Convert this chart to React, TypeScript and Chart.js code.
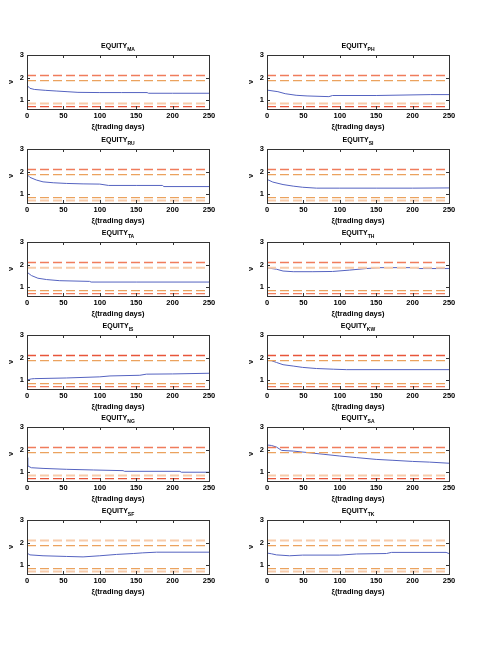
import { useEffect, useRef } from 'react';
import { Chart, registerables } from 'chart.js';

Chart.register(...registerables);

const X_TICKS = [0, 50, 100, 150, 200, 250];
const Y_TICKS = [1, 2, 3];
const Y_MIN = 0.6;
const Y_MAX = 3;

// dashed reference levels drawn in every panel
const BANDS = [2.09, 1.86, 0.84, 0.71];

const RED = '#e8553a';
const REDORANGE = '#f07c5c';
const ORANGE = '#eba25e';
const PEACH = '#f8cbaa';
const BLUE = '#5563c0';

const MA_X = [0, 4, 10, 25, 40, 55, 70, 100, 130, 165, 167, 200, 250];
const MA_Y = [1.65, 1.52, 1.47, 1.43, 1.4, 1.37, 1.34, 1.33, 1.33, 1.33, 1.3, 1.3, 1.3];

const PH_X = [0, 15, 25, 40, 55, 85, 90, 150, 225, 250];
const PH_Y = [1.44, 1.37, 1.28, 1.21, 1.18, 1.15, 1.2, 1.2, 1.24, 1.24];

const RU_X = [0, 4, 13, 22, 36, 54, 77, 100, 112, 150, 186, 188, 250];
const RU_Y = [1.87, 1.74, 1.62, 1.54, 1.5, 1.47, 1.45, 1.44, 1.38, 1.38, 1.38, 1.33, 1.33];

const SI_X = [0, 8, 22, 36, 49, 68, 100, 150, 200, 250];
const SI_Y = [1.65, 1.53, 1.42, 1.35, 1.3, 1.26, 1.26, 1.26, 1.26, 1.27];

const TA_X = [0, 6, 15, 27, 45, 86, 88, 150, 250];
const TA_Y = [1.66, 1.51, 1.39, 1.33, 1.28, 1.25, 1.22, 1.22, 1.22];

const TH_X = [0, 13, 22, 36, 63, 90, 113, 136, 155, 205, 210, 250];
const TH_Y = [1.85, 1.79, 1.71, 1.68, 1.68, 1.69, 1.75, 1.82, 1.86, 1.86, 1.82, 1.82];

const IS_X = [0, 6, 10, 54, 100, 114, 155, 164, 200, 250];
const IS_Y = [1.0, 1.05, 1.06, 1.09, 1.14, 1.18, 1.21, 1.26, 1.27, 1.3];

const KW_X = [0, 6, 13, 22, 36, 49, 68, 91, 109, 250];
const KW_Y = [1.87, 1.86, 1.78, 1.68, 1.62, 1.56, 1.51, 1.48, 1.46, 1.46];

const NG_X = [0, 1, 6, 22, 54, 91, 132, 134, 210, 212, 250];
const NG_Y = [1.64, 1.27, 1.19, 1.16, 1.12, 1.09, 1.06, 1.03, 1.03, 0.99, 0.99];

const SA_X = [0, 6, 13, 20, 36, 54, 77, 100, 123, 150, 173, 200, 223, 250];
const SA_Y = [2.2, 2.18, 2.11, 1.96, 1.93, 1.87, 1.79, 1.71, 1.64, 1.56, 1.52, 1.47, 1.44, 1.39];

const SF_X = [0, 4, 22, 54, 77, 100, 123, 146, 159, 178, 250];
const SF_Y = [1.53, 1.45, 1.41, 1.38, 1.36, 1.41, 1.47, 1.51, 1.54, 1.57, 1.57];

const TK_X = [0, 6, 13, 31, 49, 100, 123, 164, 171, 246, 250];
const TK_Y = [1.53, 1.5, 1.45, 1.41, 1.44, 1.44, 1.49, 1.51, 1.56, 1.56, 1.51];

const PANELS = [
  { sub: 'MA', xs: MA_X, ys: MA_Y, colors: [REDORANGE, ORANGE, PEACH, RED] },
  { sub: 'PH', xs: PH_X, ys: PH_Y, colors: [REDORANGE, ORANGE, PEACH, RED] },
  { sub: 'RU', xs: RU_X, ys: RU_Y, colors: [REDORANGE, ORANGE, ORANGE, PEACH] },
  { sub: 'SI', xs: SI_X, ys: SI_Y, colors: [REDORANGE, ORANGE, ORANGE, PEACH] },
  { sub: 'TA', xs: TA_X, ys: TA_Y, colors: [REDORANGE, PEACH, ORANGE, REDORANGE] },
  { sub: 'TH', xs: TH_X, ys: TH_Y, colors: [REDORANGE, PEACH, ORANGE, REDORANGE] },
  { sub: 'IS', xs: IS_X, ys: IS_Y, colors: [RED, ORANGE, ORANGE, REDORANGE] },
  { sub: 'KW', xs: KW_X, ys: KW_Y, colors: [RED, ORANGE, ORANGE, REDORANGE] },
  { sub: 'NG', xs: NG_X, ys: NG_Y, colors: [REDORANGE, ORANGE, PEACH, RED] },
  { sub: 'SA', xs: SA_X, ys: SA_Y, colors: [REDORANGE, ORANGE, PEACH, RED] },
  { sub: 'SF', xs: SF_X, ys: SF_Y, colors: [PEACH, ORANGE, ORANGE, PEACH] },
  { sub: 'TK', xs: TK_X, ys: TK_Y, colors: [PEACH, ORANGE, ORANGE, PEACH] },
];

const ROW_TOPS = [55, 149, 242, 335, 427, 520];
const COL_LEFTS = [0, 240];
const FONT = '"Liberation Sans", Arial, sans-serif';

// MATLAB-style box with inward ticks plus the subscripted title
const framePlugin = {
  id: 'frame',
  afterDraw(chart: any) {
    const { ctx, chartArea, scales } = chart;
    const { left, right, top, bottom } = chartArea;
    const sub = chart.options.plugins.frame.sub;
    ctx.save();
    ctx.strokeStyle = '#333';
    ctx.lineWidth = 1;
    ctx.strokeRect(Math.round(left) + 0.5, Math.round(top) + 0.5, Math.round(right - left), Math.round(bottom - top));
    ctx.beginPath();
    scales.x.ticks.forEach((t: any) => {
      const px = Math.round(scales.x.getPixelForValue(t.value)) + 0.5;
      ctx.moveTo(px, bottom); ctx.lineTo(px, bottom - 3);
      ctx.moveTo(px, top); ctx.lineTo(px, top + 3);
    });
    scales.y.ticks.forEach((t: any) => {
      const py = Math.round(scales.y.getPixelForValue(t.value)) + 0.5;
      ctx.moveTo(left, py); ctx.lineTo(left + 3, py);
      ctx.moveTo(right, py); ctx.lineTo(right - 3, py);
    });
    ctx.stroke();

    ctx.fillStyle = '#000';
    ctx.textBaseline = 'alphabetic';
    ctx.font = `bold 7px ${FONT}`;
    const w1 = ctx.measureText('EQUITY').width;
    ctx.font = `bold 5px ${FONT}`;
    const w2 = ctx.measureText(sub).width;
    const x0 = (left + right) / 2 - (w1 + w2) / 2;
    const y0 = top - 7;
    ctx.font = `bold 7px ${FONT}`;
    ctx.fillText('EQUITY', x0, y0);
    ctx.font = `bold 5px ${FONT}`;
    ctx.fillText(sub, x0 + w1, y0 + 2.5);
    ctx.restore();
  },
};

interface PanelProps {
  sub: string;
  xs: number[];
  ys: number[];
  colors: string[];
  left: number;
  top: number;
}

function Panel({ sub, xs, ys, colors, left, top }: PanelProps) {
  const chartRef = useRef<HTMLCanvasElement>(null);
  const chartInstance = useRef<Chart | null>(null);

  useEffect(() => {
    if (!chartRef.current) return;
    if (chartInstance.current) chartInstance.current.destroy();
    const ctx = chartRef.current.getContext('2d');
    if (!ctx) return;

    const tickFont = { family: FONT, size: 7.5, weight: 'bold' as const };

    chartInstance.current = new Chart(ctx, {
      type: 'line',
      data: {
        datasets: [
          ...BANDS.map((v, i) => ({
            data: [{ x: 0, y: v }, { x: 250, y: v }],
            borderColor: colors[i],
            borderWidth: colors[i] === PEACH ? 2 : 1.3,
            borderDash: [9, 4],
            pointRadius: 0,
          })),
          {
            data: xs.map((x, i) => ({ x, y: ys[i] })),
            borderColor: BLUE,
            borderWidth: 1,
            pointRadius: 0,
            tension: 0,
          },
        ],
      },
      options: {
        responsive: false,
        animation: false,
        layout: { padding: { top: 14, right: 31, left: 0, bottom: 0 } },
        plugins: {
          legend: { display: false },
          tooltip: { enabled: false },
          frame: { sub },
        } as any,
        scales: {
          x: {
            type: 'linear',
            min: 0,
            max: 250,
            afterBuildTicks: (s: any) => { s.ticks = X_TICKS.map(value => ({ value })); },
            afterFit: (s: any) => { s.height = 22; },
            grid: { display: false, drawTicks: false },
            border: { display: false },
            ticks: { padding: 2, font: tickFont, color: '#000', maxRotation: 0, autoSkip: false },
            title: { display: true, text: 'ξ(trading days)', font: tickFont, color: '#000', padding: 0 },
          },
          y: {
            type: 'linear',
            min: Y_MIN,
            max: Y_MAX,
            afterBuildTicks: (s: any) => { s.ticks = Y_TICKS.map(value => ({ value })); },
            afterFit: (s: any) => { s.width = 27; },
            grid: { display: false, drawTicks: false },
            border: { display: false },
            ticks: { padding: 3, font: tickFont, color: '#000' },
            title: { display: true, text: 'ν', font: tickFont, color: '#000', padding: { top: 6, bottom: 0 } },
          },
        },
      },
      plugins: [framePlugin],
    });

    return () => {
      if (chartInstance.current) {
        chartInstance.current.destroy();
        chartInstance.current = null;
      }
    };
  }, [sub, xs, ys, colors]);

  return (
    <canvas
      ref={chartRef}
      width={240}
      height={90}
      style={{ position: 'absolute', left, top: top - 14, width: 240, height: 90 }}
    />
  );
}

export default function App() {
  return (
    <div style={{ position: 'absolute', left: 0, top: 0, width: 501, height: 651, background: '#fff' }}>
      {PANELS.map((p, i) => (
        <Panel
          key={p.sub}
          {...p}
          left={COL_LEFTS[i % 2]}
          top={ROW_TOPS[Math.floor(i / 2)]}
        />
      ))}
    </div>
  );
}
